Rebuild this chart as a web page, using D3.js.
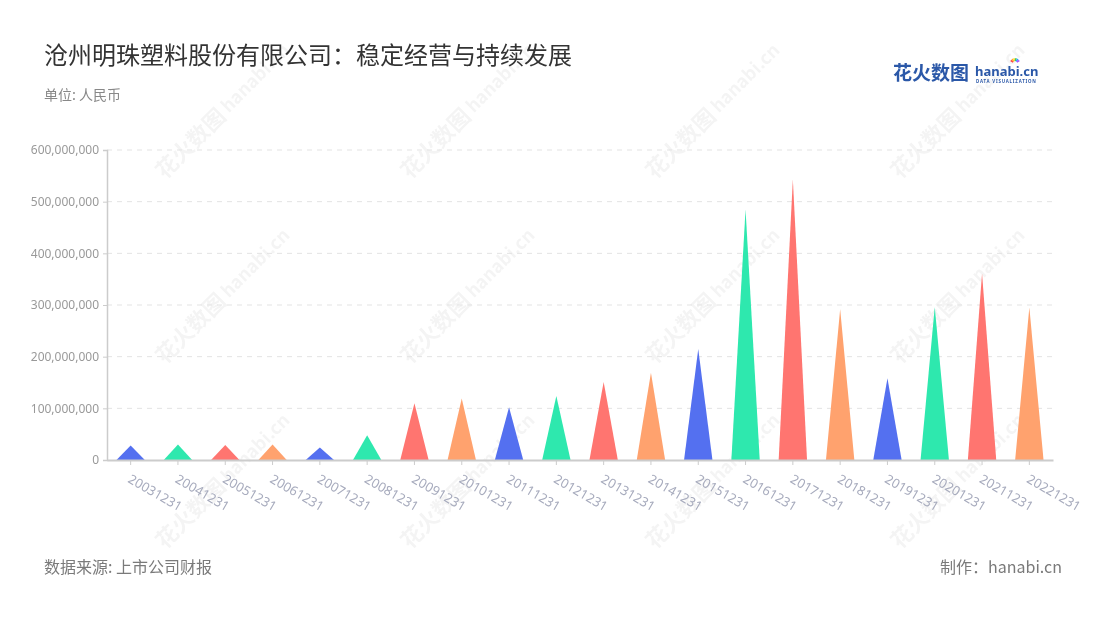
<!DOCTYPE html>
<html>
<head>
<meta charset="utf-8">
<script src="https://cdn.jsdelivr.net/npm/d3@7/dist/d3.min.js"></script>
<style>
  html, body { margin: 0; padding: 0; background: #fff; }
  svg { display: block; font-family: "Noto Sans CJK SC", "Noto Sans", sans-serif; }
</style>
</head>
<body>
<svg id="chart" width="1100" height="620"></svg>
<script>
const categories = ["20031231","20041231","20051231","20061231","20071231","20081231","20091231","20101231","20111231","20121231","20131231","20141231","20151231","20161231","20171231","20181231","20191231","20201231","20211231","20221231"];
const values = [28000000, 30000000, 29000000, 30000000, 24000000, 48000000, 110000000, 119000000, 102000000, 124000000, 151000000, 169000000, 215000000, 485000000, 543000000, 292000000, 158000000, 296000000, 361000000, 295000000];
const yTicks = [0, 100000000, 200000000, 300000000, 400000000, 500000000, 600000000];
const palette = ["#5470f0", "#2ee8ae", "#ff7570", "#ffa26e"];
const titleText = "沧州明珠塑料股份有限公司：稳定经营与持续发展";
const unitText = "单位: 人民币";
const sourceText = "数据来源: 上市公司财报";
const makerText = "制作：hanabi.cn";

const svg = d3.select("#chart");
const margin = { left: 107, right: 1053, top: 150, bottom: 460 };

// watermarks
const wm = svg.append("g").attr("opacity", 0.045);
const wmPos = [];
[165, 410, 655, 900].forEach(x => [180, 365, 550].forEach(y => wmPos.push([x, y])));
wmPos.forEach(([x, y]) => {
  const g = wm.append("g").attr("transform", `translate(${x},${y}) rotate(-45)`);
  g.append("text").attr("x", 0).attr("y", 0).attr("font-size", 22).attr("font-weight", "bold")
    .attr("fill", "#000").text("花火数图");
  g.append("text").attr("x", 92).attr("y", -2).attr("font-size", 18).attr("font-weight", "bold")
    .attr("fill", "#000").text("hanabi.cn");
});

const x = d3.scaleBand().domain(categories).range([margin.left, margin.right]);
const y = d3.scaleLinear().domain([0, 600000000]).range([margin.bottom, margin.top]);

// grid
svg.append("g").selectAll("line").data(yTicks.filter(d => d > 0)).join("line")
  .attr("x1", margin.left).attr("x2", margin.right)
  .attr("y1", d => y(d)).attr("y2", d => y(d))
  .attr("stroke", "#e3e3e3").attr("stroke-dasharray", "5,5").attr("stroke-width", 1);

// y axis
const yAxis = svg.append("g").attr("transform", `translate(${margin.left},0)`)
  .call(d3.axisLeft(y).tickValues(yTicks).tickFormat(d3.format(",")).tickSize(4).tickPadding(4));
yAxis.select(".domain").attr("stroke", "#cccccc").attr("stroke-width", 1.5);
yAxis.selectAll(".tick line").attr("stroke", "#cccccc");
yAxis.selectAll(".tick text").attr("fill", "#999").attr("font-size", 12)
  .attr("font-family", "Noto Sans, sans-serif");

// bars (triangles)
const bw = x.bandwidth() * 0.6;
svg.append("g").selectAll("path").data(values).join("path")
  .attr("d", (d, i) => {
    const cx = x(categories[i]) + x.bandwidth() / 2;
    return `M${cx - bw / 2},${y(0)} L${cx},${y(d)} L${cx + bw / 2},${y(0)} Z`;
  })
  .attr("fill", (d, i) => palette[i % 4]);

// x axis
const xAxis = svg.append("g").attr("transform", `translate(0,${margin.bottom})`)
  .call(d3.axisBottom(x).tickSize(5).tickSizeOuter(0));
xAxis.select(".domain").attr("stroke", "#cccccc").attr("stroke-width", 2);
xAxis.selectAll(".tick line").attr("stroke", "#cccccc");
xAxis.selectAll(".tick text")
  .attr("fill", "#a7abbd").attr("font-size", 13).attr("font-family", "Noto Sans, sans-serif")
  .attr("text-anchor", "start").attr("dy", "0").attr("y", 0)
  .attr("transform", "translate(2,12) rotate(30)")
  .attr("dominant-baseline", "hanging");

// titles
svg.append("text").attr("x", 44).attr("y", 64).attr("font-size", 24).attr("fill", "#333")
  .text(titleText);
svg.append("text").attr("x", 44).attr("y", 100).attr("font-size", 14).attr("fill", "#888")
  .text(unitText);
svg.append("text").attr("x", 44).attr("y", 573).attr("font-size", 16).attr("fill", "#7a7a7a")
  .text(sourceText);
svg.append("text").attr("x", 1062).attr("y", 573).attr("font-size", 16).attr("fill", "#7a7a7a")
  .attr("text-anchor", "end").text(makerText);

// logo
const logo = svg.append("g");
logo.append("text").attr("x", 893).attr("y", 80).attr("font-size", 19).attr("font-weight", "bold")
  .attr("fill", "#2b58a8").text("花火数图");
logo.append("text").attr("x", 975).attr("y", 76).attr("font-size", 13).attr("font-weight", "bold")
  .attr("fill", "#2b58a8").attr("font-family", "Noto Sans, sans-serif").text("hanabi.cn");
logo.append("text").attr("x", 976).attr("y", 83).attr("font-size", 4.4).attr("font-weight", "bold")
  .attr("fill", "#2b58a8").attr("letter-spacing", 0.8).attr("font-family", "Noto Sans, sans-serif")
  .text("DATA VISUALIZATION");
const burst = ["#f44", "#fa3", "#fd3", "#3c6", "#39f", "#a5f"];
burst.forEach((c, i) => {
  const a = (-150 + i * 24) * Math.PI / 180;
  logo.append("line").attr("x1", 1015 + Math.cos(a) * 2).attr("y1", 63 + Math.sin(a) * 2)
    .attr("x2", 1015 + Math.cos(a) * 5).attr("y2", 63 + Math.sin(a) * 5)
    .attr("stroke", c).attr("stroke-width", 1.5);
});
</script>
</body>
</html>
